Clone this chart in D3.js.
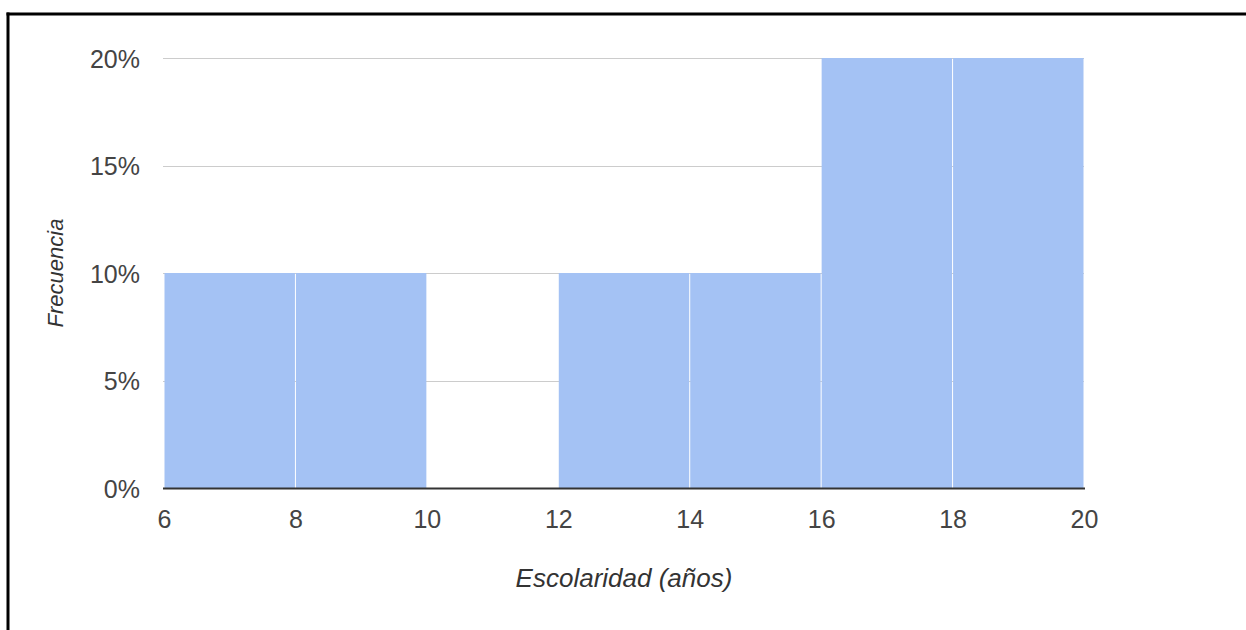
<!DOCTYPE html>
<html>
<head>
<meta charset="utf-8">
<script src="https://cdn.jsdelivr.net/npm/d3@7"></script>
<style>
  html, body { margin: 0; padding: 0; background: #fff; }
  svg { display: block; }
  text { font-family: Arial, "Liberation Sans", sans-serif; }
</style>
</head>
<body>
<svg id="chart" width="1246" height="630"></svg>
<script>
// Histogram bins: years of schooling, share of respondents
const binStarts = [6, 8, 10, 12, 14, 16, 18];
const binEnds   = [8, 10, 12, 14, 16, 18, 20];
const frequency = [0.10, 0.10, 0.00, 0.10, 0.10, 0.20, 0.20];
const xTicks = [6, 8, 10, 12, 14, 16, 18, 20];
const yTicks = [0, 0.05, 0.10, 0.15, 0.20];
const xTitle = "Escolaridad (años)";
const yTitle = "Frecuencia";

const svg = d3.select("#chart");
const W = 1246, H = 630;
const plot = { left: 164, right: 1084, top: 58, bottom: 488 };

const x = d3.scaleLinear().domain([6, 20]).range([plot.left, plot.right]);
const y = d3.scaleLinear().domain([0, 0.20]).range([plot.bottom, plot.top]);

// frame lines (top and left)
svg.append("line").attr("x1", 6.5).attr("x2", W).attr("y1", 14).attr("y2", 14)
  .attr("stroke", "#000").attr("stroke-width", 3);
svg.append("line").attr("x1", 8).attr("x2", 8).attr("y1", 12.5).attr("y2", H)
  .attr("stroke", "#000").attr("stroke-width", 3);

// horizontal gridlines
svg.append("g").selectAll("line").data(yTicks.filter(d => d > 0)).join("line")
  .attr("x1", plot.left - 1).attr("x2", plot.right)
  .attr("y1", d => Math.round(y(d)) + 0.5).attr("y2", d => Math.round(y(d)) + 0.5)
  .attr("stroke", "#cccccc").attr("stroke-width", 1);

// bars
const bins = binStarts.map((s, i) => ({ s, e: binEnds[i], v: frequency[i] }));
svg.append("g").selectAll("rect").data(bins.filter(d => d.v > 0)).join("rect")
  .attr("x", d => x(d.s) + 0.5)
  .attr("width", d => x(d.e) - x(d.s) - 1)
  .attr("y", d => y(d.v))
  .attr("height", d => y(0) - y(d.v))
  .attr("fill", "#a4c2f4");

// baseline
svg.append("line").attr("x1", plot.left - 1).attr("x2", plot.right + 1)
  .attr("y1", y(0) + 0.5).attr("y2", y(0) + 0.5)
  .attr("stroke", "#333333").attr("stroke-width", 2);

// y axis labels
const yAxis = d3.axisLeft(y).tickValues(yTicks).tickFormat(d3.format(".0%")).tickSize(0).tickPadding(0);
const gy = svg.append("g").attr("transform", `translate(${plot.left - 24},0)`).call(yAxis);
gy.select(".domain").remove();
gy.selectAll("text").attr("font-size", 25).attr("fill", "#444").attr("font-family", "Arial, 'Liberation Sans', sans-serif")
  .attr("dy", "0.36em");

// x axis labels
const xAxis = d3.axisBottom(x).tickValues(xTicks).tickFormat(d3.format("d")).tickSize(0).tickPadding(0);
const gx = svg.append("g").attr("transform", `translate(0,${plot.bottom + 22})`).call(xAxis);
gx.select(".domain").remove();
gx.selectAll("text").attr("font-size", 25).attr("fill", "#444").attr("font-family", "Arial, 'Liberation Sans', sans-serif")
  .attr("dy", "0.71em");

// axis titles
svg.append("text").attr("x", (plot.left + plot.right) / 2).attr("y", 587)
  .attr("text-anchor", "middle").attr("font-style", "italic").attr("font-size", 26)
  .attr("fill", "#333").text(xTitle);
svg.append("text").attr("transform", `translate(63,${(plot.top + plot.bottom) / 2}) rotate(-90)`)
  .attr("text-anchor", "middle").attr("font-style", "italic").attr("font-size", 22)
  .attr("fill", "#333").text(yTitle);
</script>
</body>
</html>
